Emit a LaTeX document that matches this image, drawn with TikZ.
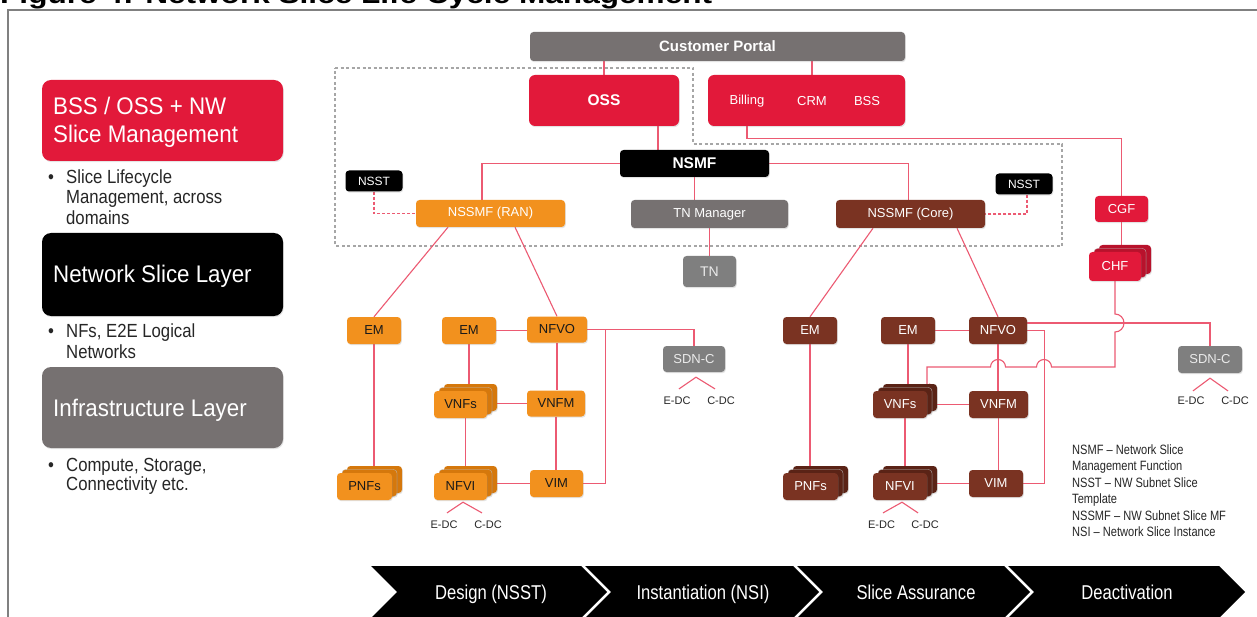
\documentclass[tikz,border=0pt]{standalone}
\usepackage{fontspec}
\setmainfont{Liberation Sans}
\newfontfamily\lpfont[FakeStretch=0.93]{Liberation Sans}
\newfontfamily\bulfont[FakeStretch=0.88]{Liberation Sans}
\newfontfamily\legfont[FakeStretch=0.82]{Liberation Sans}
\newfontfamily\chvfont[FakeStretch=0.83]{Liberation Sans}
\usetikzlibrary{calc,shadows}
\pgfdeclarelayer{bg}
\pgfsetlayers{bg,main}
\definecolor{cred}{HTML}{E2193A}
\definecolor{credD}{HTML}{B8122C}
\definecolor{cgray}{HTML}{767171}
\definecolor{clgray}{HTML}{7F7F7F}
\definecolor{corange}{HTML}{F2911E}
\definecolor{corangeD}{HTML}{D5780C}
\definecolor{cbrown}{HTML}{7A3322}
\definecolor{cbrownD}{HTML}{5A2316}
\definecolor{cline}{HTML}{EC5A72}
\newcommand\stacknode[7]{%
  \node[#6, minimum width=#4pt] (#1b) at ({#2+10},{#3-7}) {};
  \node[#6, minimum width=#4pt, draw=black!25, line width=0.3pt] (#1m) at ({#2+5},{#3-3.5}) {};
  \node[#5, minimum width=#4pt] (#1) at (#2,#3) {#7};}
\begin{document}
\begin{tikzpicture}[x=1pt,y=-1pt,
  conn/.style={draw=cline, line width=1.1pt},
  dconn/.style={conn, dash pattern=on 3pt off 2pt},
  dgrp/.style={draw=black!35, line width=1.1pt, dash pattern=on 3pt off 2.5pt},
  bx/.style={rounded corners=3.5pt, inner sep=0pt, minimum height=27pt,
    font=\fontsize{13}{13}\selectfont,
    drop shadow={shadow xshift=0.8pt, shadow yshift=-1.2pt, opacity=0.22}},
  rbx/.style={bx, fill=cred, text=white},
  rbk/.style={bx, fill=credD},
  gbx/.style={bx, fill=cgray, text=white},
  lgbx/.style={bx, fill=clgray, text=white!92!black},
  kbx/.style={bx, fill=black, text=white},
  obx/.style={bx, fill=corange, text=black!90},
  obk/.style={bx, fill=corangeD},
  bbx/.style={bx, fill=cbrown, text=white},
  bbk/.style={bx, fill=cbrownD},
  lbl/.style={inner sep=0pt, font=\fontsize{11}{11}\selectfont, text=black!85},
  big/.style={rounded corners=9pt, inner sep=0pt, minimum width=241pt,
    drop shadow={shadow xshift=0.8pt, shadow yshift=-1.2pt, opacity=0.2}},
  lp/.style={inner sep=0pt, anchor=base west, text=white, font=\lpfont\fontsize{24}{24}\selectfont},
  bul/.style={inner sep=0pt, anchor=base west, text=black!85, font=\bulfont\fontsize{19}{19}\selectfont},
  leg/.style={inner sep=0pt, anchor=base west, text=black!85, font=\legfont\fontsize{13.5}{13.5}\selectfont},
  chv/.style={inner sep=0pt, anchor=base, text=white, font=\chvfont\fontsize{20}{20}\selectfont},
  bold/.style={font=\bfseries\fontsize{15.5}{15.5}\selectfont}
]
\useasboundingbox (0,0) rectangle (1257,617);
\clip (0,0) rectangle (1257,617);
\begin{pgfonlayer}{bg}
\fill[white] (0,0) rectangle (1257,617);
\end{pgfonlayer}

% title and frame
\node[anchor=base west, inner sep=0pt, font=\bfseries\fontsize{26}{26}\selectfont] (title) at (0,4)
  {\resizebox{712pt}{\height}{Figure 4: Network Slice Life Cycle Management}};
\draw[black!50, line width=2pt] (8,620) -- (8,10) -- (1260,10);

% left panel
\node[big, fill=cred, minimum height=81pt] (lp1) at (162.5,120.5) {};
\node[lp] (lp1a) at (53,115) {BSS / OSS + NW};
\node[lp] (lp1b) at (53,143) {Slice Management};
\node[bul] (b1) at (48,184) {•};
\node[bul] (b1a) at (66,184) {Slice Lifecycle};
\node[bul] (b1b) at (66,204) {Management, across};
\node[bul] (b1c) at (66,225) {domains};
\node[big, fill=black, minimum height=83pt] (lp2) at (162.5,274.5) {};
\node[lp] (lp2a) at (53,283) {Network Slice Layer};
\node[bul] (b2) at (48,337) {•};
\node[bul] (b2a) at (66,337) {NFs, E2E Logical};
\node[bul] (b2b) at (66,358) {Networks};
\node[big, fill=cgray, minimum height=81pt] (lp3) at (162.5,407.5) {};
\node[lp] (lp3a) at (53,416) {Infrastructure Layer};
\node[bul] (b3) at (48,471) {•};
\node[bul] (b3a) at (66,471) {Compute, Storage,};
\node[bul] (b3b) at (66,490) {Connectivity etc.};

% top management
\node[gbx, minimum width=375pt, minimum height=29pt, font=\bfseries\fontsize{15}{15}\selectfont] (cp) at (717.5,46.5) {Customer Portal};
\node[rbx, rounded corners=6pt, minimum width=150pt, minimum height=51pt, bold] (oss) at (604,100.5) {OSS};
\node[rbx, rounded corners=6pt, minimum width=197pt, minimum height=51pt] (bss) at (806.5,100.5) {};
\node[inner sep=0pt, text=white, font=\fontsize{13}{13}\selectfont] (billing) at (747,101) {Billing};
\node[inner sep=0pt, text=white, font=\fontsize{13}{13}\selectfont] (crm) at (812,101) {CRM};
\node[inner sep=0pt, text=white, font=\fontsize{13}{13}\selectfont] (bsst) at (867,101) {BSS};
\node[kbx, minimum width=149pt, bold] (nsmf) at (694.5,163.5) {NSMF};
\node[kbx, minimum width=57pt, minimum height=21pt, font=\fontsize{12}{12}\selectfont] (nsstl) at (374,181) {NSST};
\node[kbx, minimum width=57pt, minimum height=21pt, font=\fontsize{12}{12}\selectfont] (nsstr) at (1024,184) {NSST};
\node[obx, text=white, minimum width=149pt] (nssmfran) at (490.5,213.5) {NSSMF (RAN)};
\node[gbx, minimum width=157pt, minimum height=28pt] (tnm) at (709.5,214) {TN Manager};
\node[bbx, minimum width=149pt, minimum height=28pt] (nssmfcore) at (910.5,214) {NSSMF (Core)};
\node[lgbx, minimum width=53pt, minimum height=31pt, font=\fontsize{14}{14}\selectfont] (tn) at (709.5,271.5) {TN};
\node[rbx, minimum width=53pt, minimum height=26pt] (cgf) at (1121.5,209) {CGF};
\stacknode{chf}{1115}{266.5}{52}{rbx, minimum height=29pt}{rbk, minimum height=29pt}{CHF}

% RAN domain
\node[obx, minimum width=54pt] (emr1) at (374,330.5) {EM};
\stacknode{pnfsr}{364.5}{486.5}{55}{obx}{obk}{PNFs}
\node[obx, minimum width=54pt] (emr2) at (469,330.5) {EM};
\node[obx, minimum width=60pt, minimum height=26pt] (nfvor) at (557,329.5) {NFVO};
\stacknode{vnfsr}{460.5}{404.5}{53}{obx}{obk}{VNFs}
\node[obx, minimum width=58pt, minimum height=26pt] (vnfmr) at (556,403.5) {VNFM};
\stacknode{nfvir}{460.5}{486.5}{53}{obx}{obk}{NFVI}
\node[obx, minimum width=53pt] (vimr) at (556.5,483.5) {VIM};
\node[lgbx, minimum width=62pt, minimum height=26pt] (sdncr) at (694,359) {SDN-C};

% Core domain
\node[bbx, minimum width=54pt] (emc1) at (810,330.5) {EM};
\stacknode{pnfsc}{810.5}{486.5}{55}{bbx}{bbk}{PNFs}
\node[bbx, minimum width=54pt] (emc2) at (908,330.5) {EM};
\node[bbx, minimum width=58pt] (nfvoc) at (998,330.5) {NFVO};
\stacknode{vnfsc}{900}{404.5}{54}{bbx}{bbk}{VNFs}
\node[bbx, minimum width=59pt] (vnfmc) at (998.5,404.5) {VNFM};
\stacknode{nfvic}{900}{486.5}{54}{bbx}{bbk}{NFVI}
\node[bbx, minimum width=54pt] (vimc) at (996,483.5) {VIM};
\node[lgbx, minimum width=64pt] (sdncc) at (1210,359.5) {SDN-C};

% DC labels
\node[lbl] (edc1) at (444,525) {E-DC};
\node[lbl] (cdc1) at (488,525) {C-DC};
\node[lbl] (edc2) at (677,401) {E-DC};
\node[lbl] (cdc2) at (721,401) {C-DC};
\node[lbl] (edc3) at (881.5,525) {E-DC};
\node[lbl] (cdc3) at (925,525) {C-DC};
\node[lbl] (edc4) at (1191,401) {E-DC};
\node[lbl] (cdc4) at (1235,401) {C-DC};
\coordinate (f1) at ($(nfvir.south)+(2.5,2)$);
\coordinate (f2) at ($(sdncr.south)+(2,5)$);
\coordinate (f3) at ($(nfvic.south)+(2,2)$);
\coordinate (f4) at ($(sdncc.south)+(0,5)$);

% legend
\node[leg] (lg1) at (1072,454) {NSMF – Network Slice};
\node[leg] (lg2) at (1072,470.5) {Management Function};
\node[leg] (lg3) at (1072,487) {NSST – NW Subnet Slice};
\node[leg] (lg4) at (1072,503.5) {Template};
\node[leg] (lg5) at (1072,520) {NSSMF – NW Subnet Slice MF};
\node[leg] (lg6) at (1072,536.5) {NSI – Network Slice Instance};

% chevrons
\foreach \L/\R/\t/\cx [count=\i] in {371/581/Design (NSST)/491, 585/793/Instantiation (NSI)/703, 797/1004/Slice Assurance/916, 1008/1219/Deactivation/1127}{
  \fill[black] (\L,566) -- (\R,566) -- (\R+26,592) -- (\R,618) -- (\L,618) -- (\L+26,592) -- cycle;
  \node[chv] (chv\i) at (\cx,599) {\t};
}

% connectors
\begin{pgfonlayer}{bg}
\draw[dgrp] (335,68) -- (693,68) -- (693,144) -- (1062,144) -- (1062,246) -- (335,246) -- cycle;
\draw[conn] (cp.south -| oss.north) -- (oss.north);
\draw[conn] (crm |- cp.south) -- (crm |- bss.north);
\coordinate (o2n) at ($(oss.south)+(54,0)$);
\draw[conn] (o2n) -- (o2n |- nsmf.north);
\draw[conn] (nsmf.west) -| ($(nssmfran.north)+(-8.5,0)$);
\draw[conn] (nsmf.south) -- (nsmf.south |- tnm.north);
\draw[conn] (nsmf.east) -| ($(nssmfcore.north)+(-2,0)$);
\draw[dconn] (nsstl.south) |- (nssmfran.west);
\draw[dconn] ($(nsstr.south)+(3,0)$) |- (nssmfcore.east);
\draw[conn] (tnm.south) -- (tn.north);
\draw[conn] (billing |- bss.south) -- ++(0,12) -| (cgf.north);
\draw[conn] (cgf.south) -- (cgf.south |- chfb.north);
\draw[conn] (chf.south) -- (1115,314) arc[start angle=-90, end angle=90, radius=9]
  -- (1115,367) -- (1051.5,367) arc[start angle=0, end angle=-180, radius=7.5]
  -- (1005.5,367) arc[start angle=0, end angle=-180, radius=7.5]
  -- (927,367) -- (927,386) -- (vnfscb);
% RAN
\draw[conn] ($(nssmfran.south)+(-42.5,0)$) -- (emr1.north);
\draw[conn] ($(nssmfran.south)+(24.5,0)$) -- (nfvor.north);
\draw[conn] (emr1.south) -- (emr1.south |- pnfsrb.north);
\draw[conn] (emr2.east) -- (emr2.east -| nfvor.west);
\draw[conn] (nfvor.east) -| (sdncr.north);
\draw[conn] (nfvor.east) -- ++(18,0) |- (vimr.east);
\draw[conn] (emr2.south) -- (emr2.south |- vnfsrb.north);
\draw[conn] (nfvor.south) -- (nfvor.south |- vnfmr.north);
\draw[conn] (vnfmr.south) -- (vnfmr.south |- vimr.north);
\draw[conn] (vnfsrb.east |- vnfmr.west) -- (vnfmr.west);
\draw[conn] (vnfsrm.center) -- (nfvirm.center);
\draw[conn] (nfvirb.east |- vimr.west) -- (vimr.west);
% Core
\draw[conn] ($(nssmfcore.south)+(-37.5,0)$) -- (emc1.north);
\draw[conn] ($(nssmfcore.south)+(46.5,0)$) -- (nfvoc.north);
\draw[conn] (emc1.south) -- (emc1.south |- pnfscb.north);
\draw[conn] (emc2.east) -- (nfvoc.west);
\draw[conn] ($(nfvoc.east)+(0,-7.5)$) -| (sdncc.north);
\draw[conn] (nfvoc.east) -- ++(17,0) |- (vimc.east);
\draw[conn] (emc2.south) -- (emc2.south |- vnfscb.north);
\draw[conn] (nfvoc.south) -- (nfvoc.south |- vnfmc.north);
\draw[conn] (vnfmc.south) -- (vnfmc.south |- vimc.north);
\draw[conn] (vnfscb.east |- vnfmc.west) -- (vnfmc.west);
\draw[conn] (vnfscm.center) -- (nfvicm.center);
\draw[conn] (nfvicb.east |- vimc.west) -- (vimc.west);
% forks
\draw[conn] ($(edc1.north)+(3,-8)$) -- (f1) -- ($(cdc1.north)+(-6,-8)$);
\draw[conn] ($(edc2.north)+(2,-8)$) -- (f2) -- ($(cdc2.north)+(-6,-8)$);
\draw[conn] ($(edc3.north)+(1.5,-8)$) -- (f3) -- ($(cdc3.north)+(-7,-8)$);
\draw[conn] ($(edc4.north)+(2,-6)$) -- (f4) -- ($(cdc4.north)+(-7,-6)$);
\end{pgfonlayer}
\end{tikzpicture}
\end{document}
